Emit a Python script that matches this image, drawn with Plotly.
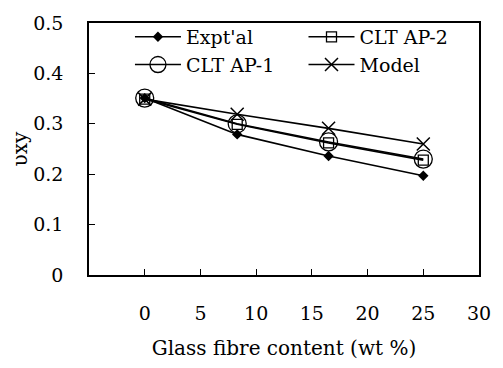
import plotly.graph_objects as go

x_vals = [0, 8.3, 16.5, 25]
expt = [0.351, 0.279, 0.236, 0.197]
clt_ap1 = [0.351, 0.300, 0.264, 0.230]
clt_ap2 = [0.349, 0.299, 0.262, 0.228]
model = [0.349, 0.319, 0.291, 0.260]

x_ticks = [0, 5, 10, 15, 20, 25, 30]
y_ticks = [0, 0.1, 0.2, 0.3, 0.4, 0.5]
y_tick_text = ["0", "0.1", "0.2", "0.3", "0.4", "0.5"]

FONT = "DejaVu Serif"
line = dict(color="black", width=1.6)

fig = go.Figure()
fig.add_trace(go.Scatter(x=x_vals, y=expt, name="Expt'al", mode="lines+markers",
                         line=line, marker=dict(symbol="diamond", size=8, color="black"),
                         legend="legend"))
fig.add_trace(go.Scatter(x=x_vals, y=clt_ap1, name="CLT AP-1", mode="lines+markers",
                         line=line, marker=dict(symbol="circle-open", size=18, color="black",
                                                line=dict(width=1.3)),
                         legend="legend"))
fig.add_trace(go.Scatter(x=x_vals, y=clt_ap2, name="CLT AP-2", mode="lines+markers",
                         line=line, marker=dict(symbol="square-open", size=10, color="black",
                                                line=dict(width=1.3)),
                         legend="legend2"))
fig.add_trace(go.Scatter(x=x_vals, y=model, name="Model", mode="lines+markers",
                         line=line, marker=dict(symbol="x-thin-open", size=13, color="black",
                                                line=dict(width=1.5, color="black")),
                         legend="legend2"))

legend_common = dict(font=dict(family=FONT, size=19, color="black"),
                     bgcolor="rgba(0,0,0,0)", borderwidth=0,
                     tracegroupgap=0, itemsizing="trace", itemwidth=46,
                     xanchor="left", yanchor="top")

fig.update_layout(
    width=503, height=368,
    margin=dict(l=89, r=20, t=14, b=93),
    paper_bgcolor="white", plot_bgcolor="white",
    font=dict(family=FONT, size=19, color="black"),
    showlegend=True,
    legend=dict(x=0.105, y=1.02, **legend_common),
    legend2=dict(x=0.55, y=1.02, **legend_common),
    xaxis=dict(range=[-5, 30], tickvals=x_ticks, ticktext=[str(v) for v in x_ticks],
               ticks="inside", ticklen=6, tickwidth=1.3, tickcolor="black",
               showline=True, linecolor="black", linewidth=1.6, mirror=True,
               showgrid=False, zeroline=False, ticklabelstandoff=20,
               tickfont=dict(family=FONT, size=19, color="black"),
               title=dict(text="Glass fibre content (wt %)", standoff=18,
                          font=dict(family=FONT, size=20, color="black"))),
    yaxis=dict(range=[0, 0.5], tickvals=y_ticks, ticktext=y_tick_text,
               ticks="inside", ticklen=6, tickwidth=1.3, tickcolor="black",
               showline=True, linecolor="black", linewidth=1.6, mirror=True,
               showgrid=False, zeroline=False, ticklabelstandoff=20,
               tickfont=dict(family=FONT, size=19, color="black"),
               title=dict(text="υxy", standoff=0,
                          font=dict(family=FONT, size=20, color="black"))),
)

fig.write_html("out.html")
